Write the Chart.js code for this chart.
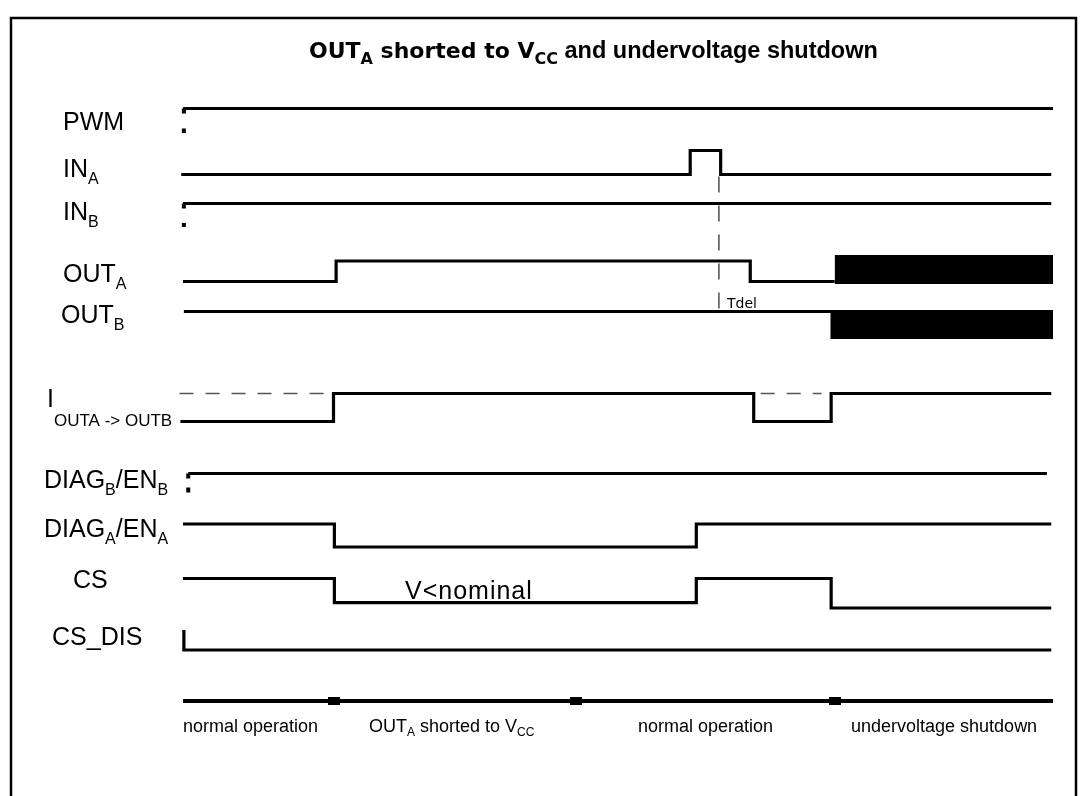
<!DOCTYPE html>
<html>
<head>
<meta charset="utf-8">
<title>OUTA shorted to VCC and undervoltage shutdown</title>
<script src="https://cdn.jsdelivr.net/npm/chart.js@4.4.0/dist/chart.umd.min.js"></script>
<style>
  html, body { margin: 0; padding: 0; background: #fff; }
  canvas { display: block; }
</style>
</head>
<body>
<canvas id="timing-chart" width="1084" height="796"></canvas>
<script>
// time axis: 0 = start of trace, 100 = end of trace (arbitrary units)
// each signal: edges (segment boundaries) + level per segment (1 = high, 0 = low)
const pwmEdges = [0, 100];
const pwmLevels = [1];
const inAEdges = [-0.2, 58.3, 61.8, 99.8];
const inALevels = [0, 1, 0];
const inBEdges = [0, 99.8];
const inBLevels = [1];
const outAEdges = [0, 17.6, 65.2, 74.9];
const outALevels = [0, 1, 0];
const outBEdges = [0.1, 74.5];
const outBLevels = [1];
const iOutEdges = [-0.3, 17.3, 65.6, 74.5, 99.8];
const iOutLevels = [0, 1, 0, 1];
const diagBEdges = [0.6, 99.3];
const diagBLevels = [1];
const diagAEdges = [0, 17.4, 59.0, 99.8];
const diagALevels = [1, 0, 1];
const csEdges = [0, 17.4, 59.0, 74.5, 99.8];
const csLevels = [1, 0.18, 1, 0]; // 0.18 = V<nominal
const csDisEdges = [0.1, 0.1, 99.8];
const csDisLevels = [1, 0];

// undefined (black) output state
const outAUndefined = [74.9, 100.3];
const outBUndefined = [74.4, 100];
// dashed reference of nominal load current
const iOutRefDash = [[-0.4, 17.3], [66.4, 73.4]];
const tDel = 61.6;

// operating phases
const phaseEdges = [0, 100];
const phaseMarks = [17.4, 45.2, 74.9];

// texts
const titleParts = [["OUT", "v"], ["A", "vs"], [" shorted to V", "v"], ["CC", "vs"], [" and undervoltage shutdown", "a"]];
const signalLabels = [
  [["PWM", "m"]],
  [["IN", "m"], ["A", "s"]],
  [["IN", "m"], ["B", "s"]],
  [["OUT", "m"], ["A", "s"]],
  [["OUT", "m"], ["B", "s"]],
  [["I", "m"], ["OUTA -> OUTB", "s2"]],
  [["DIAG", "m"], ["B", "s"], ["/EN", "m"], ["B", "s"]],
  [["DIAG", "m"], ["A", "s"], ["/EN", "m"], ["A", "s"]],
  [["CS", "m"]],
  [["CS_DIS", "m"]],
];
const phaseLabels = [
  [["normal operation", "p"]],
  [["OUT", "p"], ["A", "ps"], [" shorted to V", "p"], ["CC", "ps"]],
  [["normal operation", "p"]],
  [["undervoltage shutdown", "p"]],
];
const csNote = "V<nominal";
const tDelLabel = "Tdel";

// ---- layout (pixel rows / text anchors) ----
const rows = {
  pwm: { hi: 108.5, lo: 133 },
  inA: { hi: 150.5, lo: 174.5 },
  inB: { hi: 203.5, lo: 227 },
  outA: { hi: 261, lo: 281.5, boxTop: 255, boxBottom: 284 },
  outB: { hi: 311.5, lo: 338, boxTop: 310, boxBottom: 339 },
  iOut: { hi: 393.5, lo: 421.5 },
  diagB: { hi: 473.5, lo: 493 },
  diagA: { hi: 524, lo: 547 },
  cs: { hi: 578.5, lo: 608 },
  csDis: { hi: 630, lo: 650 },
  phase: { hi: 701 },
};
const labelAnchors = [
  [63, 130], [63, 177], [63, 220], [63, 282], [61, 323],
  [47, 407], [44, 488], [44, 537], [73, 588], [52, 645],
];
const phaseAnchors = [183, 369, 638, 851];

const fonts = {
  v: { font: "bold 22px 'DejaVu Sans', Verdana, sans-serif", dy: 0 },
  vs: { font: "bold 16px 'DejaVu Sans', Verdana, sans-serif", dy: 6 },
  a: { font: "bold 23.5px 'Liberation Sans', Arial, sans-serif", dy: 0 },
  m: { font: "25px 'Liberation Sans', Arial, sans-serif", dy: 0 },
  s: { font: "16px 'Liberation Sans', Arial, sans-serif", dy: 7 },
  s2: { font: "17px 'Liberation Sans', Arial, sans-serif", dy: 19 },
  p: { font: "18px 'Liberation Sans', Arial, sans-serif", dy: 0 },
  ps: { font: "12px 'Liberation Sans', Arial, sans-serif", dy: 4 },
};

// small black 12x8 block used as the phase boundary marker
const markerImg = document.createElement("canvas");
markerImg.width = 12;
markerImg.height = 8;
markerImg.getContext("2d").fillRect(0, 0, 12, 8);

function stepPoints(edges, levels, row) {
  const yOf = (l) => row.lo + l * (row.hi - row.lo);
  const pts = [];
  for (let i = 0; i < levels.length; i++) {
    pts.push({ x: edges[i], y: yOf(levels[i]) });
    pts.push({ x: edges[i + 1], y: yOf(levels[i]) });
  }
  return pts;
}

function trace(points, extra) {
  return Object.assign({
    data: points,
    showLine: true,
    borderColor: "#000",
    borderWidth: 3.2,
    pointRadius: 0,
    fill: false,
    tension: 0,
    clip: false,
    borderJoinStyle: "miter",
    borderCapStyle: "butt",
  }, extra || {});
}

function startStub(t, row, dash) {
  return trace([{ x: t, y: row.hi }, { x: t, y: row.lo }], { borderWidth: 4, borderDash: dash });
}

function undefinedBox(span, row) {
  return trace([{ x: span[0], y: row.boxTop }, { x: span[1], y: row.boxTop }], {
    borderWidth: 0,
    fill: { value: row.boxBottom },
    backgroundColor: "#000",
  });
}

function drawRich(ctx, x, y, parts) {
  parts.forEach(([text, style]) => {
    const f = fonts[style];
    ctx.font = f.font;
    ctx.fillText(text, x, y + f.dy);
    x += ctx.measureText(text).width;
  });
}

const textPlugin = {
  id: "timingText",
  beforeDraw(chart) {
    const ctx = chart.ctx;
    ctx.save();
    ctx.fillStyle = "#fff";
    ctx.fillRect(0, 0, chart.width, chart.height);
    ctx.strokeStyle = "#000";
    ctx.lineWidth = 2.5;
    ctx.beginPath();
    ctx.moveTo(11, 796);
    ctx.lineTo(11, 18);
    ctx.lineTo(1076, 18);
    ctx.lineTo(1076, 796);
    ctx.stroke();
    ctx.restore();
  },
  afterDraw(chart) {
    const ctx = chart.ctx;
    ctx.save();
    ctx.fillStyle = "#000";
    ctx.textBaseline = "alphabetic";
    drawRich(ctx, 309, 58, titleParts);
    signalLabels.forEach((parts, i) => drawRich(ctx, labelAnchors[i][0], labelAnchors[i][1], parts));
    phaseLabels.forEach((parts, i) => drawRich(ctx, phaseAnchors[i], 732, parts));
    ctx.font = "25px 'Liberation Sans', Arial, sans-serif";
    ctx.letterSpacing = "1px";
    ctx.fillText(csNote, 405, 599);
    ctx.letterSpacing = "0px";
    ctx.font = "14px 'DejaVu Sans', Verdana, sans-serif";
    ctx.fillText(tDelLabel, 727, 308);
    ctx.restore();
  },
};

const datasets = [
  undefinedBox(outAUndefined, rows.outA),
  undefinedBox(outBUndefined, rows.outB),
  trace(stepPoints(pwmEdges, pwmLevels, rows.pwm)),
  startStub(pwmEdges[0] + 0.1, rows.pwm, [5, 15]),
  trace(stepPoints(inAEdges, inALevels, rows.inA)),
  trace(stepPoints(inBEdges, inBLevels, rows.inB)),
  startStub(inBEdges[0] + 0.1, rows.inB, [5, 14.5]),
  trace(stepPoints(outAEdges, outALevels, rows.outA)),
  trace(stepPoints(outBEdges, outBLevels, rows.outB)),
  trace([{ x: tDel, y: rows.inA.lo + 2 }, { x: tDel, y: rows.outB.hi }], {
    borderWidth: 1.2, borderColor: "#222", borderDash: [16, 13],
  }),
  trace(stepPoints(iOutEdges, iOutLevels, rows.iOut)),
  ...iOutRefDash.map((span) => trace([{ x: span[0], y: rows.iOut.hi }, { x: span[1], y: rows.iOut.hi }], {
    borderWidth: 1.6, borderColor: "#555", borderDash: [14, 12],
  })),
  trace(stepPoints(diagBEdges, diagBLevels, rows.diagB)),
  startStub(diagBEdges[0], rows.diagB, [5, 9]),
  trace(stepPoints(diagAEdges, diagALevels, rows.diagA)),
  trace(stepPoints(csEdges, csLevels, rows.cs)),
  trace(stepPoints(csDisEdges, csDisLevels, rows.csDis)),
  trace([{ x: phaseEdges[0], y: rows.phase.hi }, { x: phaseEdges[1], y: rows.phase.hi }], { borderWidth: 4 }),
  {
    data: phaseMarks.map((t) => ({ x: t, y: rows.phase.hi })),
    showLine: false,
    pointStyle: markerImg,
    pointRadius: 6,
    clip: false,
  },
];

new Chart(document.getElementById("timing-chart").getContext("2d"), {
  type: "scatter",
  data: { datasets },
  options: {
    responsive: false,
    animation: false,
    devicePixelRatio: 1,
    layout: { autoPadding: false, padding: { left: 183, right: 31, top: 0, bottom: 0 } },
    plugins: { legend: { display: false }, tooltip: { enabled: false } },
    events: [],
    scales: {
      x: { type: "linear", min: 0, max: 100, display: false },
      y: { type: "linear", min: 0, max: 796, reverse: true, display: false },
    },
  },
  plugins: [textPlugin],
});
</script>
</body>
</html>
